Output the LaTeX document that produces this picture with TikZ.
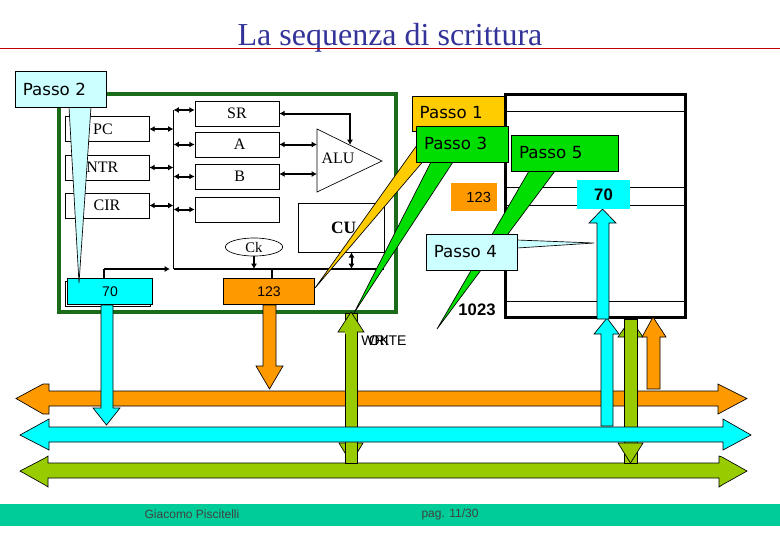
\documentclass[tikz,border=0pt]{standalone}
\usepackage{fontspec}
\setmainfont{Liberation Serif}
\setsansfont{Liberation Sans}
\newfontfamily\callfont{DejaVu Sans}
\usetikzlibrary{arrows.meta,shapes.geometric}
\definecolor{framegreen}{HTML}{1A6B1A}
\definecolor{busorange}{HTML}{FF9900}
\definecolor{buscyan}{HTML}{00FFFF}
\definecolor{busgreen}{HTML}{99CC00}
\definecolor{paleblue}{HTML}{CCFFFF}
\definecolor{callgold}{HTML}{FFCC00}
\definecolor{callgreen}{HTML}{00DD00}
\definecolor{footgreen}{HTML}{00CC99}
\definecolor{titleblue}{HTML}{333399}
\tikzset{
  regbox/.style={draw,line width=0.5pt,fill=white,minimum width=63pt,minimum height=18.7pt,inner sep=0pt,font=\fontsize{12}{12}\selectfont},
  callbox/.style={draw,line width=0.5pt,inner xsep=6pt,inner ysep=0pt,align=left,font=\callfont\fontsize{12.5}{12.5}\selectfont},
  blockline/.style={draw=black,line width=0.5pt,line join=miter},
  wire/.style={line width=1.5pt},
  wirearrow/.style={wire,{Latex[length=4pt,width=4.5pt]}-{Latex[length=4pt,width=4.5pt]}},
  wireend/.style={wire,-{Latex[length=4pt,width=4.5pt]}}
}
\begin{document}
\begin{tikzpicture}[x=0.75pt,y=-0.75pt]
  \useasboundingbox (0,0) rectangle (780,540);
  % title
  \node (title) at (390,38) {\fontsize{24}{24}\selectfont\color{titleblue}La sequenza di scrittura};
  \draw[red!75!black,line width=0.5pt] (0,48.5) -- (780,48.5);
  % cpu
  \draw[framegreen,line width=2.4pt] (59,94) rectangle (396,312);
  \node[regbox] (pc) at (107,129) {\hspace{-6pt}\raisebox{-1.5pt}{PC}};
  \node[regbox] (ntr) at (107,167.5) {\hspace{-7pt}\raisebox{-1.5pt}{NTR}};
  \node[regbox] (cir) at (107,205.5) {\raisebox{-1pt}{CIR}};
  \node[regbox] (sr) at (237,113.5) {SR};
  \node[regbox] (rega) at (237,144.5) {\hspace{4pt}A};
  \node[regbox] (regb) at (237,176.5) {\hspace{4pt}B};
  \node[regbox] (regx) at (237,209.5) {};
  \node[draw,ellipse,line width=0.5pt,minimum width=43pt,minimum height=13.5pt,inner sep=0pt,font=\fontsize{11}{11}\selectfont] (ck) at (254,247) {Ck};
  \node[draw,line width=0.5pt,minimum width=64.5pt,minimum height=36.5pt,inner sep=0pt,font=\bfseries\fontsize{13}{13}\selectfont] (cu) at (341,227.5) {\hspace{4pt}CU};
  \coordinate (alutop) at (317,129);
  \coordinate (alubot) at (317,192);
  \coordinate (alutip) at (382,161);
  \draw[line width=0.5pt] (alutop) -- (alutip) -- (alubot) -- cycle;
  \node[font=\fontsize{12}{12}\selectfont] (alu) at (338,158) {ALU};
  % bus inside cpu
  \coordinate (bustop) at (173.5,110);
  \coordinate (busmid) at (173.5,269);
  \coordinate (busend) at (384,269);
  \coordinate (alua) at (317,144.5);
  \coordinate (alub) at (317,174);
  \coordinate (alusr) at (350,145);
  \draw[line width=0.8pt] (bustop) -- (busmid);
  \draw[line width=0.8pt] (busmid) -- (busend);
  \draw[wirearrow] (pc.east) -- (pc.east -| bustop);
  \draw[wirearrow] (ntr.east) -- (ntr.east -| bustop);
  \draw[wirearrow] (cir.east) -- (cir.east -| bustop);
  \draw[wirearrow] (bustop) -- (sr.west |- bustop);
  \draw[wirearrow] (rega.west -| bustop) -- (rega.west);
  \draw[wirearrow] (regb.west -| bustop) -- (regb.west);
  \draw[wirearrow] (regx.west -| bustop) -- (regx.west);
  \draw[wirearrow] (rega.east) -- (alua);
  \draw[wirearrow] (regb.east |- alub) -- (alub);
  \draw[wirearrow] (sr.east) -| (alusr);
  \draw[wireend] (ck.south) -- (ck.south |- busmid);
  \draw[wirearrow] (cu.south -| 351.5,252) -- (351.5,269);
  % registers on the bus
  \node[draw,fill=white,minimum width=64pt,minimum height=19pt,inner sep=0pt] (mar) at (107.5,293.5) {};
  \node[draw,line width=0.8pt,fill=buscyan,minimum width=63.5pt,minimum height=20pt,inner sep=0pt,font=\sffamily\fontsize{10.5}{10.5}\selectfont] (val) at (110,291.5) {70};
  \node[draw,line width=0.8pt,fill=busorange,minimum width=68.5pt,minimum height=20pt,inner sep=0pt,font=\sffamily\fontsize{10.5}{10.5}\selectfont] (adr) at (269,291.5) {123};
  \coordinate (valup) at (104,269);
  \coordinate (adrup) at (272,269);
  \draw[wire] (valup |- val.north) -- (valup);
  \draw[wireend] (valup) -- (170,269);
  \draw[wire] (adrup |- adr.north) -- (adrup);
  % memory and first callout
  \node[draw,line width=0.5pt,fill=callgold,anchor=north west,minimum width=70pt,minimum height=26pt,inner sep=0pt] (passo1box) at (412,96) {};
  \node[anchor=west,font=\callfont\fontsize{12.5}{12.5}\selectfont] (passo1) at (415,112.5) {Passo 1};
  \coordinate (tip1) at (315,288);
  \draw[blockline,fill=callgold] (427,131) -- (tip1) -- (449,131) -- cycle;
  \node[draw=black,line width=2.4pt,fill=white,minimum width=135pt,minimum height=167pt,inner sep=0pt] (mem) at (595.5,206) {};
  \draw[line width=0.5pt] (505,111) -- (686,111);
  \draw[line width=0.5pt] (505,187) -- (686,187);
  \draw[line width=0.5pt] (505,205) -- (686,205);
  \draw[line width=0.5pt] (505,301) -- (686,301);
  % data values
  \node[fill=busorange,minimum width=34.5pt,minimum height=21pt,inner sep=0pt,font=\sffamily\fontsize{11}{11}\selectfont] (val123) at (474,197) {\hspace{7pt}123};
  \node[font=\sffamily\bfseries\fontsize{12.5}{12.5}\selectfont] (val1023) at (477,310) {1023};
  % block arrows
  \draw[blockline,fill=busorange] (49,391) -- (49,384) -- (43,384) -- (16,398.5) -- (43,414) -- (49,414) -- (49,406) -- (718,406) -- (718,414) -- (747,398.5) -- (718,384) -- (718,391) -- cycle;
  \draw[blockline,fill=busgreen] (48,463) -- (48,456) -- (45,458) -- (20,471) -- (45,485) -- (48,487) -- (48,478) -- (719,478) -- (719,487) -- (722,485) -- (747,471) -- (722,457) -- (719,456) -- (719,463) -- cycle;
  % green control lines
  \draw[blockline,fill=busgreen] (339,443) -- (351,463) -- (363,443) -- cycle;
  \draw[blockline,fill=busgreen] (345,313) rectangle (357,463);
  \draw[blockline,fill=busgreen] (345,332) -- (338,332) -- (351,312) -- (364,332) -- (357,332);
  \fill[busgreen] (345.3,331) rectangle (356.7,334);
  \draw[blockline,fill=busgreen] (630.5,319) -- (618,337) -- (643,337) -- cycle;
  \draw[blockline,fill=busgreen] (624,319) rectangle (637,463);
  \draw[blockline,fill=busgreen] (618,443) -- (630.5,463) -- (643,443) -- cycle;
  % orange arrows
  \draw[blockline,fill=busorange] (263,305) -- (263,366) -- (256,366) -- (269.5,389) -- (283,366) -- (276,366) -- (276,305) -- cycle;
  \draw[blockline,fill=busorange] (647,389) -- (647,337) -- (642,337) -- (653,317) -- (666,337) -- (660,337) -- (660,389) -- cycle;
  % cyan arrows and bus
  \draw[blockline,fill=buscyan] (101,305) -- (101,408) -- (93,408) -- (106.5,425) -- (120,408) -- (113,408) -- (113,305) -- cycle;
  \draw[blockline,fill=buscyan] (601,426) -- (601,334) -- (594,334) -- (607,318) -- (619,334) -- (613,334) -- (613,426) -- cycle;
  \draw[blockline,fill=buscyan] (49,427) -- (49,419) -- (20,435) -- (49,450) -- (49,442) -- (723,442) -- (723,450) -- (751,435) -- (723,419) -- (723,427) -- cycle;
  \draw[blockline,fill=buscyan] (597,319) -- (597,223) -- (589,223) -- (602.5,209) -- (616,223) -- (609,223) -- (609,319) -- cycle;
  \node[fill=buscyan,minimum width=40pt,minimum height=21.7pt,inner sep=0pt,font=\sffamily\bfseries\fontsize{12.5}{12.5}\selectfont] (val70) at (603.5,194.5) {70};
  % write label
  \node[font=\sffamily\fontsize{10.5}{10.5}\selectfont] (wr) at (384,341) {WRITE};
  \node[font=\sffamily\fontsize{10.5}{10.5}\selectfont] (rd) at (379,341) {OK};
  % callouts
  \coordinate (tip2) at (79,283);
  \draw[blockline,fill=paleblue] (69,107) -- (tip2) -- (91,107) -- cycle;
  \node[callbox,fill=paleblue,text width=56.5pt,minimum height=27pt] (passo2) at (60.5,89) {Passo 2};
  \coordinate (tip3) at (354,313);
  \draw[blockline,fill=callgreen] (431,162) -- (tip3) -- (453,162) -- cycle;
  \node[callbox,fill=callgreen,text width=57pt,minimum height=27pt] (passo3) at (462,144) {\raisebox{1.5pt}{Passo 3}};
  \coordinate (tip5) at (437,329);
  \draw[blockline,fill=callgreen] (529,171) -- (tip5) -- (555,171) -- cycle;
  \node[callbox,fill=callgreen,text width=68pt,minimum height=27pt] (passo5) at (564.5,153) {\raisebox{1pt}{Passo 5}};
  \coordinate (tip4) at (594,243);
  \draw[blockline,fill=paleblue] (517,240) -- (tip4) -- (517,248) -- cycle;
  \node[callbox,fill=paleblue,text width=56.5pt,minimum height=27pt] (passo4) at (471.5,252) {\raisebox{1pt}{Passo 4}};
  % footer
  \fill[footgreen] (0,504) rectangle (780,526);
  \node[font=\sffamily\fontsize{9}{9}\selectfont,text=black!75] (author) at (192,514.5) {Giacomo Piscitelli};
  \node[font=\sffamily\fontsize{9}{9}\selectfont,text=black!75] (page) at (450,514.5) {pag. 11/30};
\end{tikzpicture}
\end{document}
